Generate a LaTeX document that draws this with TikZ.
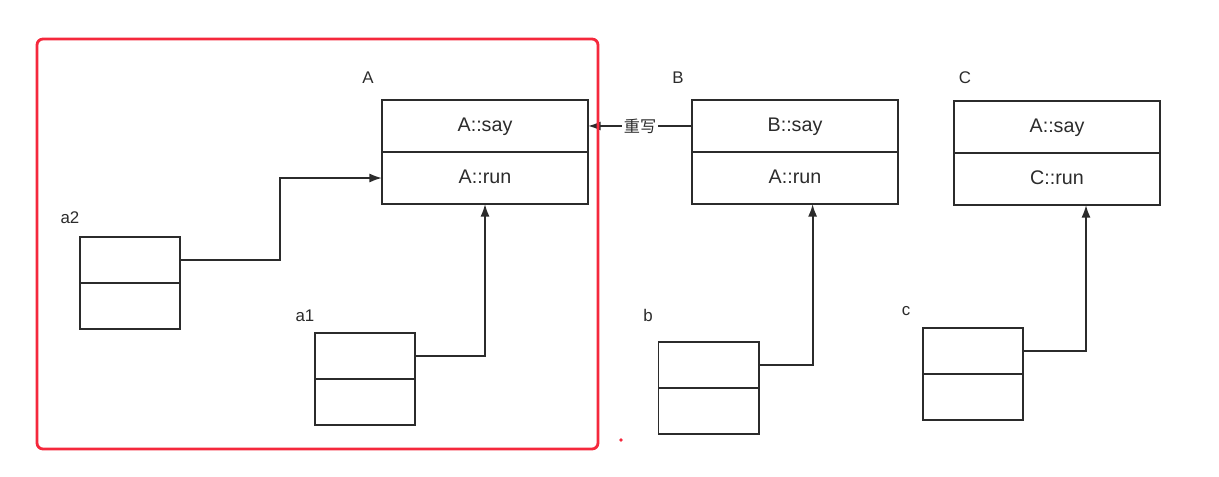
\documentclass[tikz,border=0pt]{standalone}
\usepackage{fontspec}
\setmainfont{Liberation Sans}
\newfontfamily\cjk{Noto Sans CJK SC}
\usetikzlibrary{positioning,arrows.meta}

\definecolor{ink}{HTML}{2B2B2B}
\definecolor{frame}{HTML}{F5283C}

\tikzset{
  cell/.style={draw=ink, line width=1.4pt, minimum width=5.15cm, minimum height=1.3cm,
    inner sep=0pt, outer sep=0pt, text=ink, text height=1.38ex, text depth=0pt,
    font=\fontsize{14}{16}\selectfont},
  slot/.style={cell, minimum width=2.5cm, minimum height=1.15cm},
  tag/.style={text=ink, font=\fontsize{12}{14}\selectfont},
  arr/.style={draw=ink, line width=1.3pt, -{Latex[length=9pt,width=6.5pt]}},
}

\begin{document}
\begin{tikzpicture}[x=0.025cm, y=-0.025cm]

\useasboundingbox (0,0) rectangle (1219,477);

% Class boxes
\node[cell] (Asay) at (485,126) {A::say};
\node[cell, below=0pt of Asay] (Arun) {A::run};
\node[tag] (Alab) at (368,78) {A};

\node[cell] (Bsay) at (795,126) {B::say};
\node[cell, below=0pt of Bsay] (Brun) {A::run};
\node[tag] (Blab) at (678,78) {B};

\node[cell] (Csay) at (1057,127) {A::say};
\node[cell, below=0pt of Csay] (Crun) {C::run};
\node[tag] (Clab) at (965,78) {C};

% Objects
\node[slot] (a2top) at (130,260) {};
\node[slot, below=0pt of a2top] (a2bot) {};
\node[tag] (a2lab) at (70,218) {a2};

\node[slot] (a1top) at (365,356) {};
\node[slot, below=0pt of a1top] (a1bot) {};
\node[tag] (a1lab) at (305,316) {a1};

\node[slot] (btop) at (708.5,365) {};
\node[slot, below=0pt of btop] (bbot) {};
\node[tag] (blab) at (648,315) {b};

\node[slot] (ctop) at (973,351) {};
\node[slot, below=0pt of ctop] (cbot) {};
\node[tag] (clab) at (906,311) {c};

% Pointers
\draw[arr] (a2top.east) -- ++(100,0) |- (Arun.west);
\draw[arr] (a1top.east) -| (Arun.south);
\draw[arr] (btop.east) -| ([xshift=0.44cm]Brun.south);
\draw[arr] (ctop.east) -| ([xshift=0.725cm]Crun.south);

% Override
\draw[arr] (Bsay.west) -- node[fill=white, inner sep=1.5pt, text=ink,
  font=\cjk\fontsize{11.5}{13}\selectfont] (over) {重写} (Asay.east);

% Red frame
\draw[frame, line width=2pt, rounded corners=0.15cm] (37,39) rectangle (598,449);
\fill[frame] (621,440) circle (1.4pt);

\end{tikzpicture}
\end{document}
